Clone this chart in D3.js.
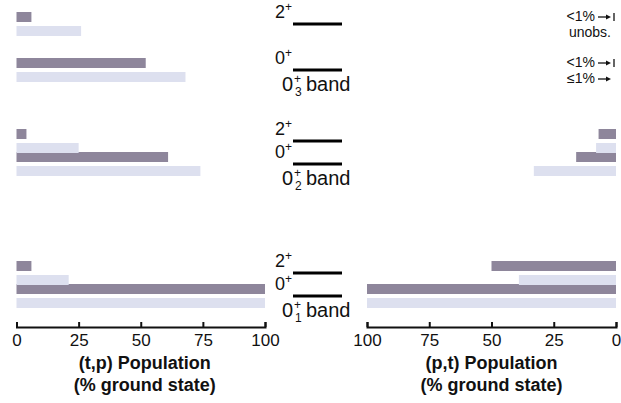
<!DOCTYPE html>
<html>
<head>
<meta charset="utf-8">
<script src="https://cdn.jsdelivr.net/npm/d3@7"></script>
<style>
  body { margin: 0; background: #fff; }
  svg { display: block; font-family: "Liberation Sans", Arial, sans-serif; }
  .axis path, .axis line { stroke: #111; stroke-width: 2; }
  .axis text { font-size: 17px; fill: #111; }
</style>
</head>
<body>
<div id="chart"></div>
<script>
// level scheme: band name (subscript), spin label, schematic energy (MeV)
var bandIndex = ["1", "1", "2", "2", "3", "3"];
var levelSpin = ["2", "0", "2", "0", "2", "0"];
var levelEnergy = [0.23, 0, 1.55, 1.32, 2.72, 2.26];

// (t,p) population, % of ground state (dark = measured, light = second set)
var tpDark  = [6, 100, 4, 61, 6, 52];
var tpLight = [21, 100, 25, 74, 26, 68];

// (p,t) population, null where only a limit is given
var ptDark  = [50, 100, 7, 16, null, null];
var ptLight = [39, 100, 8, 33, null, null];

// limits written instead of bars on the (p,t) side
var ptDarkNote  = [null, null, null, null, "<1%", "<1%"];
var ptLightNote = [null, null, null, null, "unobs.", "\u22641%"];

var xTicks = [0, 25, 50, 75, 100];

var width = 621, height = 403;
var darkColor = "#8e869b", lightColor = "#dde0ef";

var svg = d3.select("#chart").append("svg")
  .attr("width", width)
  .attr("height", height);

var yScale = d3.scaleLinear()
  .domain([0, 2.72])
  .range([296, 24]);

var tpScale = d3.scaleLinear()
  .domain([0, 100])
  .range([16.5, 265]);

var ptScale = d3.scaleLinear()
  .domain([0, 100])
  .range([616, 367]);

var axisY = 327;

//bars
function barGroup(values, scale, color, offset){
  var g = svg.append("g");
  values.forEach(function(d, i){
    if(d == null) return;
    g.append("rect")
      .attr("x", Math.min(scale(0), scale(d)))
      .attr("width", Math.abs(scale(d) - scale(0)))
      .attr("y", yScale(levelEnergy[i]) + offset)
      .attr("height", 10)
      .attr("fill", color);
  });
}

barGroup(tpDark, tpScale, darkColor, -12);
barGroup(tpLight, tpScale, lightColor, 2);
barGroup(ptDark, ptScale, darkColor, -12);
barGroup(ptLight, ptScale, lightColor, 2);

//axes
var tpAxis = d3.axisBottom(tpScale)
  .tickValues(xTicks)
  .tickSizeInner(-5)
  .tickSizeOuter(-5)
  .tickPadding(7);

var ptAxis = d3.axisBottom(ptScale)
  .tickValues(xTicks)
  .tickSizeInner(-5)
  .tickSizeOuter(-5)
  .tickPadding(7);

svg.append("g")
  .attr("class", "axis")
  .attr("transform", "translate(0," + axisY + ")")
  .call(tpAxis);

svg.append("g")
  .attr("class", "axis")
  .attr("transform", "translate(0," + axisY + ")")
  .call(ptAxis);

svg.selectAll(".axis .domain").attr("fill", "none");

//axis titles
function axisTitle(cx, lines){
  lines.forEach(function(t, k){
    svg.append("text")
      .attr("x", cx)
      .attr("y", 369 + k * 22)
      .attr("text-anchor", "middle")
      .style("font-size", "18px")
      .style("font-weight", "bold")
      .attr("fill", "#111")
      .text(t);
  });
}
axisTitle((tpScale(0) + tpScale(100)) / 2 + 4, ["(t,p) Population", "(% ground state)"]);
axisTitle((ptScale(0) + ptScale(100)) / 2, ["(p,t) Population", "(% ground state)"]);

//level scheme in the middle
var levels = svg.append("g");
levelEnergy.forEach(function(e, i){
  var y = yScale(e);
  levels.append("line")
    .attr("x1", 293).attr("x2", 342)
    .attr("y1", y).attr("y2", y)
    .attr("stroke", "#000")
    .attr("stroke-width", 3);
  var t = levels.append("text")
    .attr("x", 275)
    .attr("y", y - 6)
    .attr("fill", "#111")
    .style("font-size", "18px");
  t.append("tspan").text(levelSpin[i]);
  t.append("tspan").attr("dy", -7).style("font-size", "12px").text("+");

  if(levelSpin[i] == "0"){
    var by = y + 21;
    levels.append("text")
      .attr("x", 282).attr("y", by)
      .attr("fill", "#111")
      .style("font-size", "20px")
      .text("0");
    levels.append("text")
      .attr("x", 294).attr("y", by - 8)
      .attr("fill", "#111")
      .style("font-size", "12px")
      .text("+");
    levels.append("text")
      .attr("x", 295).attr("y", by + 5)
      .attr("fill", "#111")
      .style("font-size", "12px")
      .text(bandIndex[i]);
    levels.append("text")
      .attr("x", 306).attr("y", by)
      .attr("fill", "#111")
      .style("font-size", "20px")
      .text("band");
  }
});

//notes for the limits on the (p,t) side
var notes = svg.append("g");
function drawNote(text, ty, kind){
  notes.append("text")
    .attr("x", kind == "none" ? 611 : 595)
    .attr("y", ty)
    .attr("text-anchor", "end")
    .attr("fill", "#111")
    .style("font-size", "14px")
    .text(text);
  if(kind == "none") return;
  var ay = ty - 4;
  notes.append("line")
    .attr("x1", 598).attr("x2", 607)
    .attr("y1", ay).attr("y2", ay)
    .attr("stroke", "#111").attr("stroke-width", 1.3);
  notes.append("path")
    .attr("d", "M606," + (ay - 2.5) + "L611," + ay + "L606," + (ay + 2.5) + "Z")
    .attr("fill", "#111");
  if(kind == "bar"){
    notes.append("line")
      .attr("x1", 614).attr("x2", 614)
      .attr("y1", ay - 4).attr("y2", ay + 4)
      .attr("stroke", "#111").attr("stroke-width", 1.3);
  }
}
levelEnergy.forEach(function(e, i){
  var y = yScale(e);
  if(ptDarkNote[i]) drawNote(ptDarkNote[i], y - 3, "bar");
  if(ptLightNote[i]){
    drawNote(ptLightNote[i], y + 13, ptLightNote[i] == "unobs." ? "none" : "arrow");
  }
});
</script>
</body>
</html>
